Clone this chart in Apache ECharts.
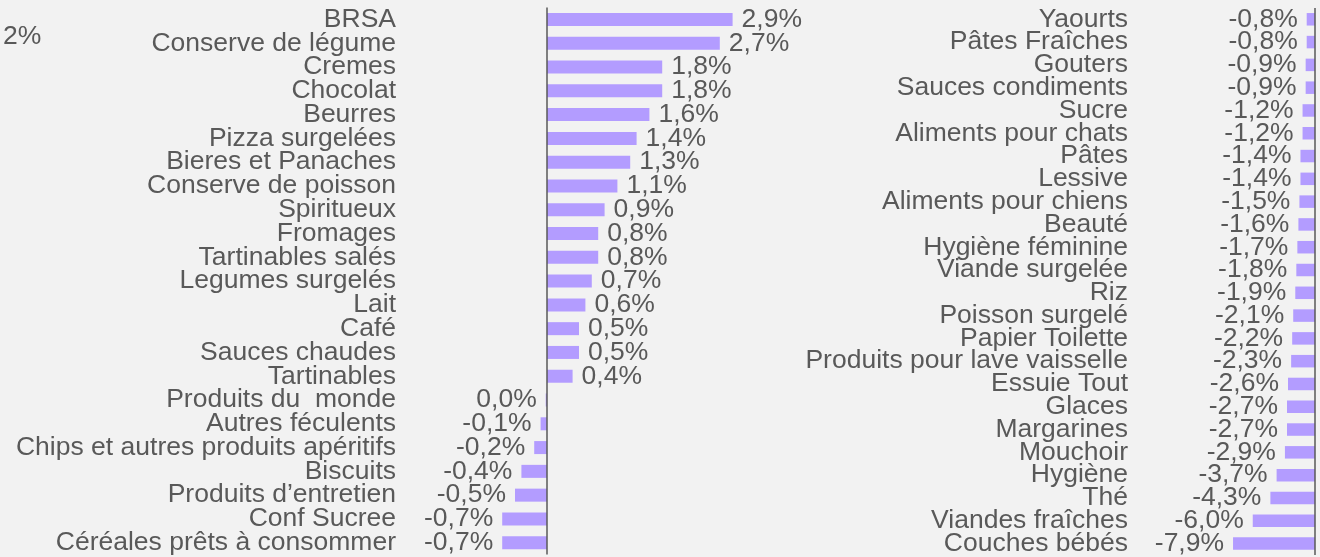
<!DOCTYPE html>
<html>
<head>
<meta charset="utf-8">
<script src="https://cdn.jsdelivr.net/npm/echarts@6/dist/echarts.min.js"></script>
<style>
  html, body { margin: 0; padding: 0; background: #f2f2f2; }
  #chart { width: 1320px; height: 557px; }
</style>
</head>
<body>
<div id="chart"></div>
<script>
// catégories en hausse (panneau gauche)
const leftCategories = [
  'BRSA', 'Conserve de légume', 'Cremes', 'Chocolat', 'Beurres', 'Pizza surgelées',
  'Bieres et Panaches', 'Conserve de poisson', 'Spiritueux', 'Fromages', 'Tartinables salés',
  'Legumes surgelés', 'Lait', 'Café', 'Sauces chaudes', 'Tartinables', 'Produits du  monde',
  'Autres féculents', 'Chips et autres produits apéritifs', 'Biscuits', 'Produits d\u2019entretien',
  'Conf Sucree', 'Céréales prêts à consommer'
];
const leftValues = [
  2.9, 2.7, 1.8, 1.8, 1.6, 1.4, 1.3, 1.1, 0.9, 0.8, 0.8, 0.7, 0.6, 0.5, 0.5, 0.4,
  -0.02, -0.1, -0.2, -0.4, -0.5, -0.7, -0.7
];

// catégories en baisse (panneau droit)
const rightCategories = [
  'Yaourts', 'Pâtes Fraîches', 'Gouters', 'Sauces condiments', 'Sucre', 'Aliments pour chats',
  'Pâtes', 'Lessive', 'Aliments pour chiens', 'Beauté', 'Hygiène féminine', 'Viande surgelée',
  'Riz', 'Poisson surgelé', 'Papier Toilette', 'Produits pour lave vaisselle', 'Essuie Tout',
  'Glaces', 'Margarines', 'Mouchoir', 'Hygiène', 'Thé', 'Viandes fraîches', 'Couches bébés'
];
const rightValues = [
  -0.8, -0.8, -0.9, -0.9, -1.2, -1.2, -1.4, -1.4, -1.5, -1.6, -1.7, -1.8,
  -1.9, -2.1, -2.2, -2.3, -2.6, -2.7, -2.7, -2.9, -3.7, -4.3, -6.0, -7.9
];

const FONT = 'Liberation Sans, Arial, sans-serif';
const TEXT = '#595959';
const BAR = '#b39cff';
const SIZE = 26.5;

const fmt = v => (Math.abs(v) < 0.05 ? '0,0' : v.toFixed(1).replace('.', ',')) + '%';

// étiquette à droite pour les hausses, à gauche pour les baisses
function toItems(values) {
  return values.map(v => ({
    value: v,
    label: { position: v < 0 ? 'left' : 'right', distance: v < 0 ? 9 : 9 }
  }));
}

const axisMark = {
  silent: true,
  symbol: 'none',
  label: { show: false },
  lineStyle: { color: TEXT, width: 1.5, type: 'solid' },
  data: [{ xAxis: 0 }]
};

const catLabel = margin => ({
  interval: 0, margin: margin, fontSize: SIZE, color: TEXT, fontFamily: FONT, lineHeight: SIZE
});

const chart = echarts.init(document.getElementById('chart'));

const option = {
  backgroundColor: '#f2f2f2',
  animation: false,
  textStyle: { fontFamily: FONT },
  graphic: [{
    type: 'text',
    left: 3,
    top: 23,
    style: { text: '2%', fontSize: SIZE, fontFamily: FONT, fill: TEXT }
  }],
  grid: [
    { left: 483, right: 581, top: 7.6, bottom: 2.4 },
    { left: 1232, right: 5, top: 7.9, bottom: 2.1 }
  ],
  xAxis: [
    { type: 'value', gridIndex: 0, min: -1, max: 3, show: false },
    { type: 'value', gridIndex: 1, min: -8, max: 0, show: false }
  ],
  yAxis: [
    {
      type: 'category', gridIndex: 0, data: leftCategories, inverse: true,
      axisLine: { show: false }, axisTick: { show: false },
      axisLabel: catLabel(87)
    },
    {
      type: 'category', gridIndex: 1, data: rightCategories, inverse: true,
      axisLine: { show: false }, axisTick: { show: false },
      axisLabel: catLabel(104)
    }
  ],
  series: [
    {
      type: 'bar', xAxisIndex: 0, yAxisIndex: 0,
      data: toItems(leftValues),
      barWidth: 13,
      itemStyle: { color: BAR },
      label: {
        show: true, fontSize: SIZE, color: TEXT, fontFamily: FONT,
        formatter: p => fmt(p.value)
      },
      markLine: axisMark
    },
    {
      type: 'bar', xAxisIndex: 1, yAxisIndex: 1,
      data: toItems(rightValues),
      barWidth: 12.5,
      itemStyle: { color: BAR },
      label: {
        show: true, fontSize: SIZE, color: TEXT, fontFamily: FONT,
        formatter: p => fmt(p.value)
      },
      markLine: axisMark
    }
  ]
};

chart.setOption(option);
</script>
</body>
</html>
